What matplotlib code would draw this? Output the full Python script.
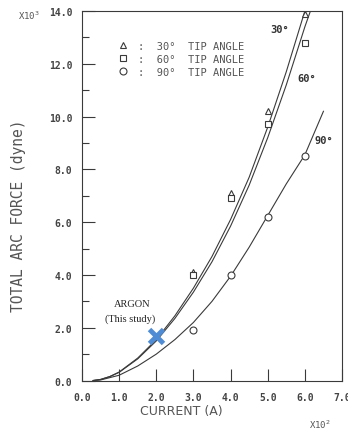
import matplotlib
matplotlib.use("Agg")
import matplotlib.pyplot as plt
from matplotlib.lines import Line2D

# measured points (x10^2 A, x10^3 dyne)
current = [3.0, 4.0, 5.0, 6.0]
force_30 = [4.1, 7.1, 10.2, 13.9]
force_60 = [4.0, 6.9, 9.7, 12.8]
force_90 = [1.9, 4.0, 6.2, 8.5]

# fitted curves
fit_x_30 = [0.3, 0.5, 0.75, 1.0, 1.5, 2.0, 2.5, 3.0, 3.5, 4.0, 4.5, 5.0, 5.5, 6.0]
fit_y_30 = [0.0, 0.04, 0.15, 0.32, 0.85, 1.55, 2.45, 3.5, 4.7, 6.1, 7.7, 9.6, 11.7, 14.0]
fit_x_60 = [0.3, 0.5, 0.75, 1.0, 1.5, 2.0, 2.5, 3.0, 3.5, 4.0, 4.5, 5.0, 5.5, 6.0, 6.15]
fit_y_60 = [0.0, 0.04, 0.15, 0.31, 0.82, 1.5, 2.35, 3.35, 4.5, 5.85, 7.4, 9.2, 11.2, 13.4, 14.0]
fit_x_90 = [0.3, 0.5, 1.0, 1.5, 2.0, 2.5, 3.0, 3.5, 4.0, 4.5, 5.0, 5.5, 6.0, 6.5]
fit_y_90 = [0.0, 0.02, 0.2, 0.55, 1.0, 1.55, 2.2, 3.0, 3.95, 5.05, 6.25, 7.45, 8.55, 10.2]

# this study
argon_x = [2.0]
argon_y = [1.7]

x_ticks = [0, 1, 2, 3, 4, 5, 6, 7]
y_ticks = [0, 2, 4, 6, 8, 10, 12, 14]

ink = "#3a3a3a"
txt = "#555555"
mono = "DejaVu Sans Mono"

fig = plt.figure(figsize=(3.48, 4.31), dpi=100)
ax = fig.add_axes([0.2356, 0.1148, 0.7472, 0.8574])

ax.plot(fit_x_30, fit_y_30, color=ink, lw=0.8)
ax.plot(fit_x_60, fit_y_60, color=ink, lw=0.8)
ax.plot(fit_x_90, fit_y_90, color=ink, lw=0.8)

mk = dict(ls="none", mfc="white", mec=ink, mew=0.8, ms=5)
ax.plot(current, force_30, marker="^", **mk)
ax.plot(current, force_60, marker="s", **mk)
ax.plot(current, force_90, marker="o", **mk)

ax.plot(argon_x, argon_y, ls="none", marker="x", ms=10, mew=3.5, color="#4f8cd4")
ax.text(1.35, 2.9, "ARGON", family="Liberation Serif", fontsize=7.5, ha="center", va="center", color="#222222")
ax.text(1.3, 2.36, "(This study)", family="Liberation Serif", fontsize=7.5, ha="center", va="center", color="#222222")

ax.text(5.33, 13.3, "30\u00b0", family=mono, fontsize=7.5, color="#333333", ha="center", va="center", fontweight="bold")
ax.text(6.06, 11.45, "60\u00b0", family=mono, fontsize=7.5, color="#333333", ha="center", va="center", fontweight="bold")
ax.text(6.5, 9.1, "90\u00b0", family=mono, fontsize=7.5, color="#333333", ha="center", va="center", fontweight="bold")

handles = [Line2D([], [], marker=m, **mk) for m in ["^", "s", "o"]]
labels = [":  30\u00b0  TIP ANGLE", ":  60\u00b0  TIP ANGLE", ":  90\u00b0  TIP ANGLE"]
ax.legend(handles, labels, loc="upper left", bbox_to_anchor=(0.10, 0.945), frameon=False,
          prop={"family": mono, "size": 7.5}, handlelength=1.0, handletextpad=1.0,
          labelspacing=0.3, labelcolor=txt)

ax.set_xlim(0, 7)
ax.set_ylim(0, 14)
ax.set_xticks(x_ticks)
ax.set_xticklabels(["%.1f" % v for v in x_ticks])
ax.set_yticks(y_ticks)
ax.set_yticklabels(["%.1f" % v for v in y_ticks])
ax.set_yticks([1, 3, 5, 7, 9, 11, 13], minor=True)
ax.tick_params(which="both", direction="in", color=ink, width=0.8)
ax.tick_params(which="major", length=9, labelsize=7, labelcolor="#444444")
ax.tick_params(which="minor", length=5)
ax.tick_params(axis="y", pad=7)
ax.tick_params(axis="x", pad=8)
for lab in ax.get_xticklabels() + ax.get_yticklabels():
    lab.set_family(mono)
    lab.set_fontweight("bold")
for s in ax.spines.values():
    s.set_color(ink)
    s.set_linewidth(0.8)

fig.text(0.052, 0.5, "TOTAL ARC FORCE (dyne)", rotation=90, ha="center", va="center",
         family=mono, fontsize=10.5, color=txt)
fig.text(0.52, 0.046, "CURRENT (A)", ha="center", va="center", fontsize=9, color=txt)
fig.text(0.083, 0.963, "X10$^{3}$", ha="center", va="center", family=mono, fontsize=6.5, color=txt)
fig.text(0.92, 0.014, "X10$^{2}$", ha="center", va="center", family=mono, fontsize=6.5, color=txt)

fig.savefig("out.png", dpi=100)
